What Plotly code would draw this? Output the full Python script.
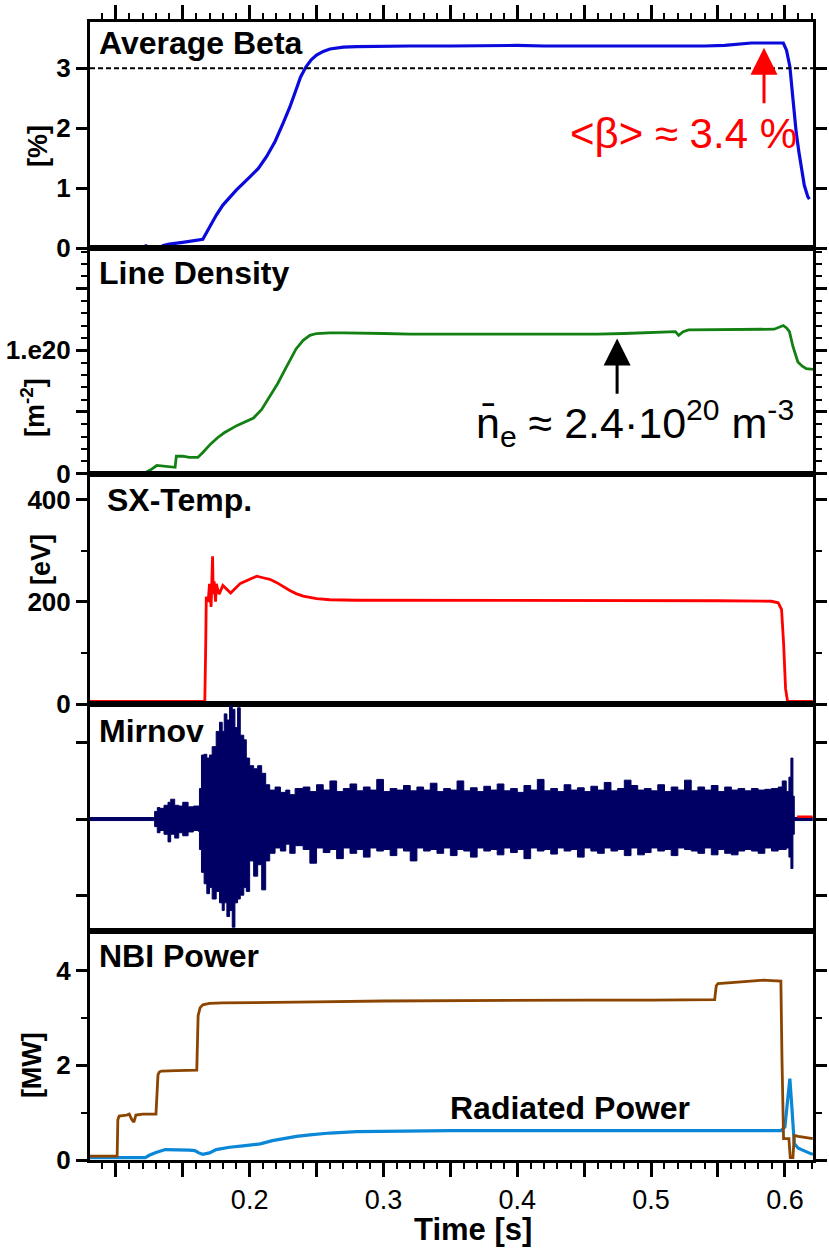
import plotly.graph_objects as go

# ---------------- data ----------------
beta_t = [0.099, 0.1015, None, 0.1215, 0.1235, None, 0.1345, 0.140, 0.150, 0.160, 0.165, 0.170, 0.175, 0.180,
          0.1833, 0.190, 0.2002, 0.2065, 0.2127, 0.219, 0.2251, 0.230, 0.2347, 0.238, 0.242, 0.246, 0.250,
          0.255, 0.260, 0.265, 0.270, 0.280, 0.300, 0.320, 0.350, 0.380, 0.400, 0.420, 0.440, 0.460, 0.480,
          0.500, 0.520, 0.540, 0.555, 0.565, 0.575, 0.585, 0.5988, 0.6012, 0.6037, 0.6061, 0.6085, 0.6105,
          0.6122, 0.6145, 0.6171, 0.6183]
beta_v = [0.03, 0.03, None, 0.04, 0.04, None, 0.04, 0.07, 0.10, 0.13, 0.15, 0.35, 0.55, 0.72,
          0.80, 0.97, 1.19, 1.33, 1.53, 1.78, 2.09, 2.35, 2.64, 2.85, 3.02, 3.14, 3.22,
          3.28, 3.32, 3.34, 3.35, 3.36, 3.37, 3.37, 3.37, 3.38, 3.38, 3.37, 3.37, 3.37, 3.36,
          3.36, 3.36, 3.37, 3.38, 3.40, 3.42, 3.42, 3.42, 3.30, 3.03, 2.47, 1.92, 1.60,
          1.36, 1.05, 0.86, 0.82]

dens_t = [0.121, 0.126, 0.1306, 0.134, 0.138, 0.1443, 0.1452, 0.150, 0.155, 0.1613, 0.165, 0.1709, 0.176,
          0.181, 0.1907, 0.197, 0.2029, 0.209, 0.2149, 0.221, 0.2273, 0.2347, 0.240, 0.245, 0.250, 0.255,
          0.260, 0.270, 0.280, 0.300, 0.320, 0.350, 0.380, 0.400, 0.430, 0.460, 0.480, 0.500, 0.515, 0.5182,
          0.5206, 0.524, 0.528, 0.540, 0.560, 0.580, 0.592, 0.5988, 0.6012, 0.6034, 0.606, 0.6097, 0.613,
          0.616, 0.6196, 0.621]
dens_v = [0.0, 0.03, 0.065, 0.06, 0.055, 0.05, 0.14, 0.14, 0.13, 0.13, 0.17, 0.24, 0.29,
          0.33, 0.39, 0.42, 0.45, 0.52, 0.62, 0.73, 0.86, 1.01, 1.08, 1.12, 1.135, 1.14,
          1.14, 1.14, 1.14, 1.135, 1.13, 1.13, 1.125, 1.125, 1.13, 1.13, 1.135, 1.14, 1.145, 1.15,
          1.12, 1.15, 1.165, 1.165, 1.168, 1.17, 1.17, 1.20, 1.18, 1.15, 1.03, 0.905, 0.87,
          0.85, 0.845, 0.845]  # units of 1e20

sx_t = [0.0807, 0.1665, 0.1672, 0.1676, 0.1690, 0.1700, 0.1712, 0.1718, 0.1723, 0.1728, 0.1735, 0.1745,
        0.1752, 0.1760, 0.1772, 0.1800, 0.1858, 0.1931, 0.2000, 0.2053, 0.2100, 0.2151, 0.2200, 0.2249,
        0.2300, 0.2347, 0.2400, 0.2500, 0.2600, 0.2800, 0.3000, 0.3500, 0.4000, 0.4500, 0.5000, 0.5500,
        0.5900, 0.5950, 0.5975, 0.5990, 0.6005, 0.6020, 0.6208]
sx_v = [5, 5, 120, 210, 200, 235, 190, 280, 289, 215, 240, 200,
        235, 225, 215, 232, 217, 236, 244, 250, 247, 244, 238, 230,
        222, 216, 211, 206, 204, 203, 203, 203, 203, 203, 203, 202,
        201, 198, 185, 120, 30, 5, 5]

mir_t = [0.0807, 0.1270, 0.1290, 0.1310, 0.1330, 0.1360, 0.1390, 0.1410, 0.1440, 0.1470, 0.1500, 0.1540,
         0.1580, 0.1615, 0.1625, 0.1640, 0.1660, 0.1680, 0.1700, 0.1720, 0.1750, 0.1775, 0.1795, 0.1810,
         0.1830, 0.1850, 0.1870, 0.1890, 0.1910, 0.1930, 0.1956, 0.1975, 0.2000, 0.2030, 0.2060, 0.2090,
         0.2120, 0.2150, 0.2190, 0.2230, 0.2270, 0.2300, 0.2340, 0.240, 0.245, 0.250, 0.255, 0.260,
         0.265, 0.270, 0.275, 0.280, 0.285, 0.290, 0.295, 0.300, 0.305, 0.310, 0.315, 0.320,
         0.325, 0.330, 0.335, 0.340, 0.345, 0.350, 0.355, 0.360, 0.365, 0.370, 0.375, 0.380,
         0.385, 0.390, 0.395, 0.400, 0.405, 0.410, 0.415, 0.420, 0.425, 0.430, 0.435, 0.440,
         0.445, 0.450, 0.455, 0.460, 0.465, 0.470, 0.475, 0.480, 0.485, 0.490, 0.495, 0.500,
         0.505, 0.510, 0.515, 0.520, 0.525, 0.530, 0.535, 0.540, 0.545, 0.550, 0.555, 0.560,
         0.565, 0.570, 0.575, 0.580, 0.585, 0.590, 0.595, 0.598, 0.601, 0.603, 0.6045, 0.6060,
         0.6070, 0.6208]
mir_up = [0.02, 0.02, 0.10, 0.15, 0.14, 0.18, 0.22, 0.26, 0.18, 0.17, 0.22, 0.16,
          0.17, 0.17, 0.40, 0.84, 0.85, 0.80, 0.84, 0.95, 1.15, 1.27, 1.15, 1.38,
          1.30, 1.49, 1.44, 1.20, 1.46, 1.10, 1.04, 0.80, 0.70, 0.66, 0.70, 0.60,
          0.45, 0.38, 0.42, 0.35, 0.38, 0.32, 0.40, 0.42, 0.36, 0.45, 0.38, 0.50,
          0.36, 0.40, 0.46, 0.37, 0.42, 0.38, 0.52, 0.36, 0.40, 0.38, 0.44, 0.37,
          0.42, 0.38, 0.47, 0.36, 0.40, 0.38, 0.50, 0.37, 0.41, 0.36, 0.43, 0.38,
          0.46, 0.37, 0.40, 0.35, 0.44, 0.38, 0.52, 0.37, 0.40, 0.36, 0.45, 0.38,
          0.41, 0.36, 0.43, 0.38, 0.48, 0.37, 0.40, 0.51, 0.44, 0.38, 0.40, 0.37,
          0.45, 0.36, 0.42, 0.38, 0.51, 0.37, 0.42, 0.38, 0.44, 0.36, 0.42, 0.38,
          0.40, 0.37, 0.40, 0.38, 0.39, 0.40, 0.42, 0.50, 0.36, 0.55, 0.80, 0.30,
          0.02, 0.02]
mir_lo = [-0.02, -0.02, -0.10, -0.18, -0.15, -0.20, -0.30, -0.20, -0.25, -0.18, -0.22, -0.17,
          -0.15, -0.16, -0.40, -0.70, -0.85, -0.98, -0.90, -1.05, -0.95, -1.10, -1.20, -1.10,
          -1.28, -1.20, -1.42, -1.10, -1.05, -1.00, -0.90, -0.95, -0.55, -0.75, -0.60, -0.93,
          -0.55, -0.45, -0.38, -0.42, -0.33, -0.45, -0.35, -0.40, -0.58, -0.38, -0.44, -0.40,
          -0.52, -0.38, -0.45, -0.40, -0.50, -0.38, -0.42, -0.40, -0.48, -0.38, -0.42, -0.55,
          -0.38, -0.42, -0.40, -0.45, -0.38, -0.48, -0.40, -0.42, -0.50, -0.38, -0.42, -0.40,
          -0.47, -0.38, -0.44, -0.40, -0.52, -0.38, -0.42, -0.40, -0.46, -0.38, -0.42, -0.40,
          -0.50, -0.38, -0.42, -0.45, -0.38, -0.42, -0.40, -0.48, -0.38, -0.47, -0.44, -0.38,
          -0.42, -0.40, -0.48, -0.38, -0.40, -0.42, -0.45, -0.38, -0.47, -0.40, -0.45, -0.47,
          -0.42, -0.40, -0.42, -0.45, -0.38, -0.42, -0.40, -0.40, -0.38, -0.50, -0.65, -0.20,
          -0.02, -0.02]
mir_red_t = [0.6091, 0.6208]
mir_red_v = [0.03, 0.03]

nbi_t = [0.0807, 0.1010, 0.1015, 0.1025, 0.1080, 0.1100, 0.1120, 0.1135, 0.1150, 0.1200, 0.1300, 0.1315,
         0.1325, 0.1340, 0.1450, 0.1550, 0.1605, 0.1615, 0.1630, 0.1650, 0.1700, 0.1800, 0.2000, 0.2500,
         0.3000, 0.3500, 0.4000, 0.4500, 0.5000, 0.5400, 0.5475, 0.5487, 0.5500, 0.5600, 0.5700, 0.5840,
         0.5900, 0.5970, 0.5978, 0.5985, 0.5990, 0.6030, 0.6040, 0.6060, 0.6070, 0.6100, 0.6150, 0.6208]
nbi_v = [0.08, 0.08, 0.85, 0.93, 0.95, 0.97, 0.85, 0.80, 0.95, 0.97, 0.97, 1.80,
         1.86, 1.88, 1.89, 1.90, 1.90, 3.05, 3.22, 3.28, 3.31, 3.32, 3.33, 3.34,
         3.36, 3.37, 3.38, 3.38, 3.38, 3.39, 3.39, 3.68, 3.73, 3.75, 3.77, 3.80,
         3.79, 3.78, 2.15, 0.60, 0.45, 0.45, 0.05, 0.05, 0.52, 0.50, 0.47, 0.45]

rad_t = [0.0807, 0.100, 0.122, 0.125, 0.130, 0.137, 0.145, 0.155, 0.159, 0.162, 0.165, 0.170, 0.175,
         0.185, 0.195, 0.200, 0.208, 0.217, 0.225, 0.235, 0.245, 0.260, 0.280, 0.300, 0.350, 0.400,
         0.450, 0.500, 0.550, 0.597, 0.600, 0.602, 0.6037, 0.6050, 0.6070, 0.610, 0.615, 0.6196, 0.621]
rad_v = [0.05, 0.05, 0.05, 0.10, 0.16, 0.22, 0.22, 0.21, 0.20, 0.15, 0.12, 0.15, 0.22,
         0.27, 0.30, 0.32, 0.34, 0.41, 0.45, 0.50, 0.53, 0.57, 0.60, 0.61, 0.62, 0.62,
         0.62, 0.62, 0.62, 0.62, 0.70, 1.30, 1.72, 1.20, 0.35, 0.25, 0.18, 0.13, 0.12]

x_tickvals = [0.10, 0.15, 0.20, 0.25, 0.30, 0.35, 0.40, 0.45, 0.50, 0.55, 0.60]
x_ticktext = ["", "", "0.2", "", "0.3", "", "0.4", "", "0.5", "", "0.6"]
panel_titles = ["Average Beta", "Line Density", "SX-Temp.", "Mirnov", "NBI Power"]

# ---------------- layout helpers ----------------
W, H = 829, 1251
L, R, T, B = 90, 2, 22, 91
PH = H - T - B
PW = W - L - R


def py(ypx):
    return (H - B - ypx) / PH


def px(xpx):
    return (xpx - L) / PW


bounds = [22, 248.3, 473.5, 704, 931, 1160]
domains = [[py(bounds[i + 1]), py(bounds[i])] for i in range(5)]
XR = [0.0807, 0.621]
FONT = "Arial, Liberation Sans, Helvetica, sans-serif"
NAVY = "#000064"

fig = go.Figure()

# Panel 1: beta
fig.add_trace(go.Scatter(x=beta_t, y=beta_v, mode="lines", line=dict(color="#0a0adc", width=3.2),
                         connectgaps=False, xaxis="x", yaxis="y", showlegend=False))
# Panel 2: density
fig.add_trace(go.Scatter(x=dens_t, y=[v * 1e20 for v in dens_v], mode="lines",
                         line=dict(color="#128012", width=2.8), xaxis="x2", yaxis="y2", showlegend=False))
# Panel 3: SX temperature
fig.add_trace(go.Scatter(x=sx_t, y=sx_v, mode="lines", line=dict(color="#ff0000", width=2.8),
                         xaxis="x3", yaxis="y3", showlegend=False))
# Panel 4: Mirnov envelope band
fig.add_trace(go.Scatter(x=mir_t, y=mir_up, mode="lines", line=dict(color=NAVY, width=1, shape="hv"),
                         xaxis="x4", yaxis="y4", showlegend=False))
fig.add_trace(go.Scatter(x=mir_t, y=mir_lo, mode="lines", line=dict(color=NAVY, width=1, shape="hv"),
                         fill="tonexty", fillcolor=NAVY, xaxis="x4", yaxis="y4", showlegend=False))
fig.add_trace(go.Scatter(x=mir_red_t, y=mir_red_v, mode="lines", line=dict(color="#ff0000", width=2.5),
                         xaxis="x4", yaxis="y4", showlegend=False))
# Panel 5: NBI + radiated
fig.add_trace(go.Scatter(x=rad_t, y=rad_v, mode="lines", line=dict(color="#0b87d8", width=3.2),
                         xaxis="x5", yaxis="y5", showlegend=False))
fig.add_trace(go.Scatter(x=nbi_t, y=nbi_v, mode="lines", line=dict(color="#8b4500", width=2.8),
                         xaxis="x5", yaxis="y5", showlegend=False))

layout = dict(width=W, height=H, margin=dict(l=L, r=R, t=T, b=B), plot_bgcolor="white",
              paper_bgcolor="white", font=dict(family=FONT, color="black"), showlegend=False)

for i in range(5):
    n = "" if i == 0 else str(i + 1)
    if i == 0:
        # top axis: ticks only (no tick text so every tick value is kept)
        xa = dict(domain=[0, 1], range=XR, anchor="y", side="top", ticks="outside", ticklen=14,
                  tickwidth=3, tickcolor="black", showline=True, linewidth=3, linecolor="black",
                  mirror=True, tickvals=x_tickvals, showticklabels=False, showgrid=False, zeroline=False,
                  minor=dict(dtick=0.01, tick0=0, ticklen=6, tickwidth=2, ticks="outside", tickcolor="black"))
    else:
        xa = dict(domain=[0, 1], range=XR, anchor="y" + n, showline=True, linewidth=3, linecolor="black",
                  mirror=True, showgrid=False, zeroline=False, tickvals=x_tickvals, ticktext=x_ticktext,
                  ticklen=14, tickwidth=2.5, tickcolor="black",
                  tickfont=dict(family=FONT, size=27, color="black"))
        if i == 4:
            xa.update(side="bottom", ticks="outside", showticklabels=True,
                      minor=dict(tick0=0, dtick=0.01, ticklen=6, tickwidth=2, tickcolor="black",
                                 ticks="outside"))
        else:
            xa.update(ticks="", showticklabels=False)
    layout["xaxis" + n] = xa

ycommon = dict(showline=True, linewidth=3, linecolor="black", mirror="allticks", showgrid=False,
               zeroline=False, ticks="outside", ticklen=11, tickwidth=2.5, tickcolor="black",
               tickfont=dict(family=FONT, size=26, color="black", weight="bold"))

y1 = dict(ycommon, domain=domains[0], anchor="x", range=[0, 3.77], tickvals=[0, 1, 2, 3])
y2 = dict(ycommon, domain=domains[1], anchor="x2", range=[0, 1.826e20],
          tickvals=[0, 0.5e20, 1e20, 1.5e20], ticktext=["0", "", "1.e20", ""],
          minor=dict(tick0=0, dtick=0.1e20, ticklen=6, tickwidth=2, tickcolor="black", ticks="outside"))
y3 = dict(ycommon, domain=domains[2], anchor="x3", range=[0, 451], tickvals=[0, 200, 400],
          minor=dict(tick0=0, dtick=100, ticklen=6, tickwidth=2, tickcolor="black", ticks="outside"))
y4 = dict(ycommon, domain=domains[3], anchor="x4", range=[-1.47, 1.51], tickvals=[-1, 0, 1],
          showticklabels=False)
y5 = dict(ycommon, domain=domains[4], anchor="x5", range=[0, 4.84], tickvals=[0, 2, 4],
          minor=dict(tick0=0, dtick=1, ticklen=6, tickwidth=2, tickcolor="black", ticks="outside"))
layout.update(yaxis=y1, yaxis2=y2, yaxis3=y3, yaxis4=y4, yaxis5=y5)

annotations = []
title_y = [43, 273, 500, 731, 956]
title_x = [97, 97, 105, 97, 97]
for i, (txt, ty, tx) in enumerate(zip(panel_titles, title_y, title_x)):
    annotations.append(dict(text="<b>%s</b>" % txt, xref="paper", yref="paper", x=px(tx), y=py(ty),
                            xanchor="left", yanchor="middle", showarrow=False,
                            font=dict(family=FONT, size=32, color="black")))

# y axis titles
for txt, xx, yy in [("[%]", 37, 146), ("[m<sup>-2</sup>]", 32, 408), ("[eV]", 40, 559), ("[MW]", 31, 1065)]:
    annotations.append(dict(text="<b>%s</b>" % txt, xref="paper", yref="paper", x=px(xx), y=py(yy),
                            xanchor="center", yanchor="middle", textangle=-90, showarrow=False,
                            font=dict(family=FONT, size=27, color="black")))

# x axis title
annotations.append(dict(text="<b>Time [s]</b>", xref="paper", yref="paper", x=px(480), y=py(1230),
                        xanchor="center", yanchor="middle", showarrow=False,
                        font=dict(family=FONT, size=31, color="black")))

# arrows
annotations.append(dict(text="", x=0.5844, y=3.34, ax=0.5844, ay=2.39, xref="x", yref="y", axref="x",
                        ayref="y", showarrow=True, arrowhead=2, arrowsize=1.8, arrowwidth=3,
                        arrowcolor="#ff0000", standoff=0, startstandoff=0))
annotations.append(dict(text="", x=0.4746, y=1.095e20, ax=0.4746, ay=0.634e20, xref="x2", yref="y2",
                        axref="x2", ayref="y2", showarrow=True, arrowhead=2, arrowsize=1.8, arrowwidth=3,
                        arrowcolor="black", standoff=0, startstandoff=0))

annotations.append(dict(text="&lt;β&gt; ≈ 3.4 %", x=0.5243, y=1.92, xref="x", yref="y",
                        xanchor="center", yanchor="middle", showarrow=False,
                        font=dict(family=FONT, size=42, color="#ff0000")))
annotations.append(dict(text="n\u0304<sub>e</sub> ≈ 2.4·10<sup>20</sup> m<sup>-3</sup>", x=0.368,
                        y=0.41e20, xref="x2", yref="y2", xanchor="left", yanchor="middle",
                        showarrow=False, font=dict(family=FONT, size=43, color="black")))
annotations.append(dict(text="<b>Radiated Power</b>", x=0.348, y=1.10, xref="x5", yref="y5",
                        xanchor="left", yanchor="middle", showarrow=False,
                        font=dict(family=FONT, size=32, color="black")))

shapes = [dict(type="line", xref="x domain", yref="y", x0=0, x1=1, y0=3, y1=3,
               line=dict(color="black", width=2, dash="5px,3px"))]

layout.update(annotations=annotations, shapes=shapes)
fig.update_layout(**layout)

fig.write_html("out.html")
